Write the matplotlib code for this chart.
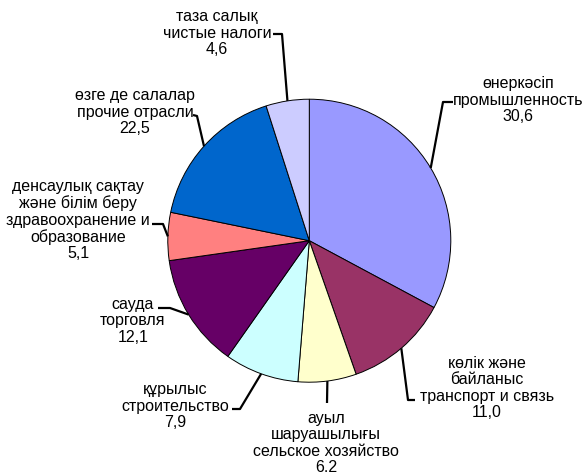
import numpy as np
import matplotlib
matplotlib.use('Agg')
import matplotlib.pyplot as plt

plt.rcParams['font.family'] = ['Liberation Sans', 'DejaVu Sans']

# Sectors, clockwise from 12 o'clock
names_kk = ['өнеркәсіп', 'көлік және\nбайланыс', 'ауыл\nшаруашылығы', 'құрылыс',
            'сауда', 'денсаулық сақтау\nжәне білім беру', 'өзге де салалар', 'таза салық']
names_ru = ['промышленность', 'транспорт и связь', 'сельское хозяйство', 'строительство',
            'торговля', 'здравоохранение и\nобразование', 'прочие отрасли', 'чистые налоги']
value_text = ['30,6', '11,0', '6.2', '7,9', '12,1', '5,1', '22,5', '4,6']
# slice sizes as drawn in the picture (the "other" slice is drawn smaller than its label)
shares = [30.6, 11.0, 6.2, 7.9, 12.1, 5.1, 15.7, 4.6]
colors = ['#9999FF', '#993366', '#FFFFCC', '#CCFFFF', '#660066', '#FF8080', '#0066CC', '#CCCCFF']

W, H = 586, 474
# label block centres and leader elbows, in pixels from the top-left corner
label_xy = [(518, 100), (487, 388), (326, 443), (175, 406),
            (133, 321), (78, 220), (135, 112), (217, 33)]
leader_pts = [
    [(453, 102), (443, 102)],
    [(415, 400), (408, 400)],
    [(327, 403)],
    [(232, 409), (240, 409)],
    [(158, 308), (170, 308)],
    [(152, 224), (163, 224)],
    [(193, 115), (197, 116)],
    [(273, 34), (282, 34)],
]

fig = plt.figure(figsize=(W / 100, H / 100), dpi=100)
ax = fig.add_axes([0, 0, 1, 1])

cx, cy, r = 309.3, H - 240.7, 141.5
wedges, _ = ax.pie(shares, colors=colors, startangle=90, counterclock=False,
                   center=(cx, cy), radius=r,
                   wedgeprops=dict(edgecolor='black', linewidth=0.7))
ax.set_xlim(0, W)
ax.set_ylim(0, H)
ax.set_aspect('equal')
ax.axis('off')

for i, w in enumerate(wedges):
    mid = np.deg2rad((w.theta1 + w.theta2) / 2)
    anchor = (cx + r * np.cos(mid), cy + r * np.sin(mid))
    pts = [(x, H - y) for x, y in leader_pts[i]] + [anchor]
    xs, ys = zip(*pts)
    ax.plot(xs, ys, color='black', lw=1.6, solid_capstyle='butt', clip_on=False)

    txt = names_kk[i] + '\n' + names_ru[i] + '\n' + value_text[i]
    tx, ty = label_xy[i]
    ax.text(tx, H - ty, txt, ha='center', va='center', fontsize=11.5,
            linespacing=1.12, color='black')

fig.savefig('out.png', dpi=100, facecolor='white')
